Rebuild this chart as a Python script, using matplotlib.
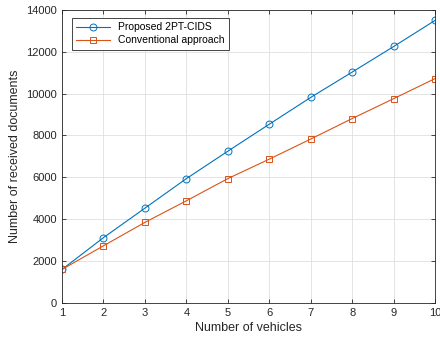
import numpy as np
import matplotlib
matplotlib.use('Agg')
import matplotlib.pyplot as plt

plt.rcParams['font.family'] = ['Liberation Sans', 'DejaVu Sans']

vehicles = [1, 2, 3, 4, 5, 6, 7, 8, 9, 10]
proposed = [1600, 3120, 4530, 5940, 7250, 8540, 9820, 11030, 12250, 13500]
conventional = [1600, 2730, 3850, 4880, 5940, 6870, 7830, 8810, 9760, 10720]

fig = plt.figure(figsize=(4.4, 3.4), dpi=100)
ax = fig.add_axes([0.141, 0.109, 0.848, 0.862])

ax.plot(vehicles, proposed, '-o', color='#0072BD', lw=0.8, ms=5,
        mfc='none', mew=0.7, label='Proposed 2PT-CIDS')
ax.plot(vehicles, conventional, '-s', color='#D95319', lw=0.8, ms=4.5,
        mfc='none', mew=0.7, label='Conventional approach')

ax.set_xlim(1, 10)
ax.set_ylim(0, 14000)
ax.set_xticks(vehicles)
ax.set_yticks(np.arange(0, 14001, 2000))
ax.set_xlabel('Number of vehicles', fontsize=9, color='#262626', labelpad=3)
ax.set_ylabel('Number of received documents', fontsize=9, color='#262626')
ax.tick_params(direction='in', labelsize=8, colors='#262626', length=3,
               top=True, right=True, width=0.6)
ax.grid(True, color='#dfdfdf', lw=0.6)
ax.set_axisbelow(True)
for s in ax.spines.values():
    s.set_linewidth(0.6)
    s.set_color('#262626')

leg = ax.legend(loc='upper left', fontsize=7.5, fancybox=False,
                edgecolor='#262626', framealpha=1, handlelength=3.2,
                borderpad=0.4, labelspacing=0.3, borderaxespad=0,
                bbox_to_anchor=(0.027, 0.972))
leg.get_frame().set_linewidth(0.6)

fig.savefig('out.png', dpi=100)
